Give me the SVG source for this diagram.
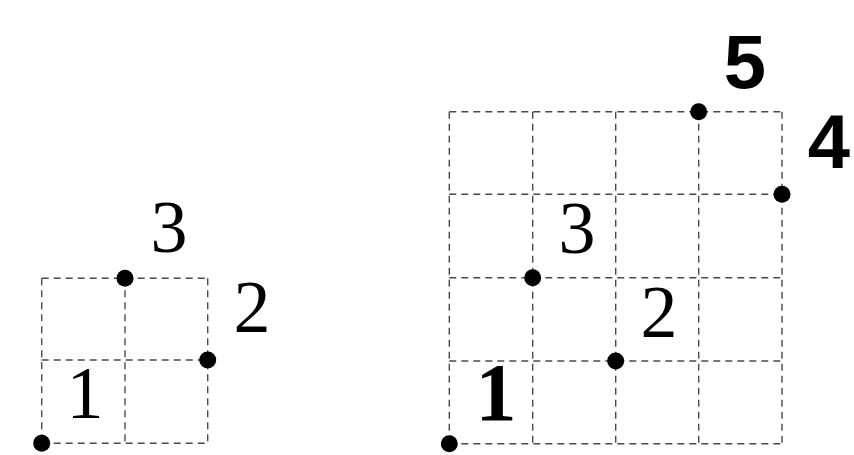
<svg xmlns="http://www.w3.org/2000/svg" width="854" height="455" viewBox="0 0 854 455">
<style>
.g{stroke:#4a4a4a;stroke-width:1.4;stroke-dasharray:7 5;fill:none}
.d{fill:#000}
.s{font-family:"Liberation Serif","DejaVu Serif",serif;font-size:74px;text-anchor:middle;fill:#000}
.b{font-family:"Liberation Serif","DejaVu Serif",serif;font-weight:bold;font-size:82px;text-anchor:middle;fill:#000}
.sb{font-family:"Liberation Sans","DejaVu Sans",sans-serif;font-weight:bold;font-size:76px;text-anchor:middle;fill:#000}
</style>
<rect width="854" height="455" fill="#fff"/>
<g id="connectors">
<g id="grid-left">
<path class="g" d="M41.7 278.3H207.7M41.7 360H207.7M41.7 443.3H207.7M41.7 278.3V443.3M125 278.3V443.3M207.7 278.3V443.3"/>
</g>
<g id="grid-right">
<path class="g" d="M449.3 111.7H782M449.3 194.3H782M449.3 277.7H782M449.3 361H782M449.3 443.7H782M449.3 111.7V443.7M532.7 111.7V443.7M615.7 111.7V443.7M698.7 111.7V443.7M782 111.7V443.7"/>
</g>
</g>
<g id="left-1"><circle class="d" cx="41.7" cy="443.3" r="8.5"/><text class="s" x="85" y="418">1</text></g>
<g id="left-2"><circle class="d" cx="207.7" cy="360" r="8.5"/><text class="s" x="252" y="332">2</text></g>
<g id="left-3"><circle class="d" cx="125" cy="278.3" r="8.5"/><text class="s" x="169" y="252">3</text></g>
<g id="right-1"><circle class="d" cx="449.3" cy="443.7" r="8.5"/><text class="b" x="496" y="420">1</text></g>
<g id="right-2"><circle class="d" cx="615.7" cy="361" r="8.5"/><text class="s" x="659" y="336.7">2</text></g>
<g id="right-3"><circle class="d" cx="532.7" cy="277.7" r="8.5"/><text class="s" x="577" y="252.7">3</text></g>
<g id="right-4"><circle class="d" cx="782" cy="194.3" r="8.5"/><text class="sb" x="829" y="168">4</text></g>
<g id="right-5"><circle class="d" cx="698.7" cy="111.7" r="8.5"/><text class="sb" x="745" y="88">5</text></g>
</svg>
